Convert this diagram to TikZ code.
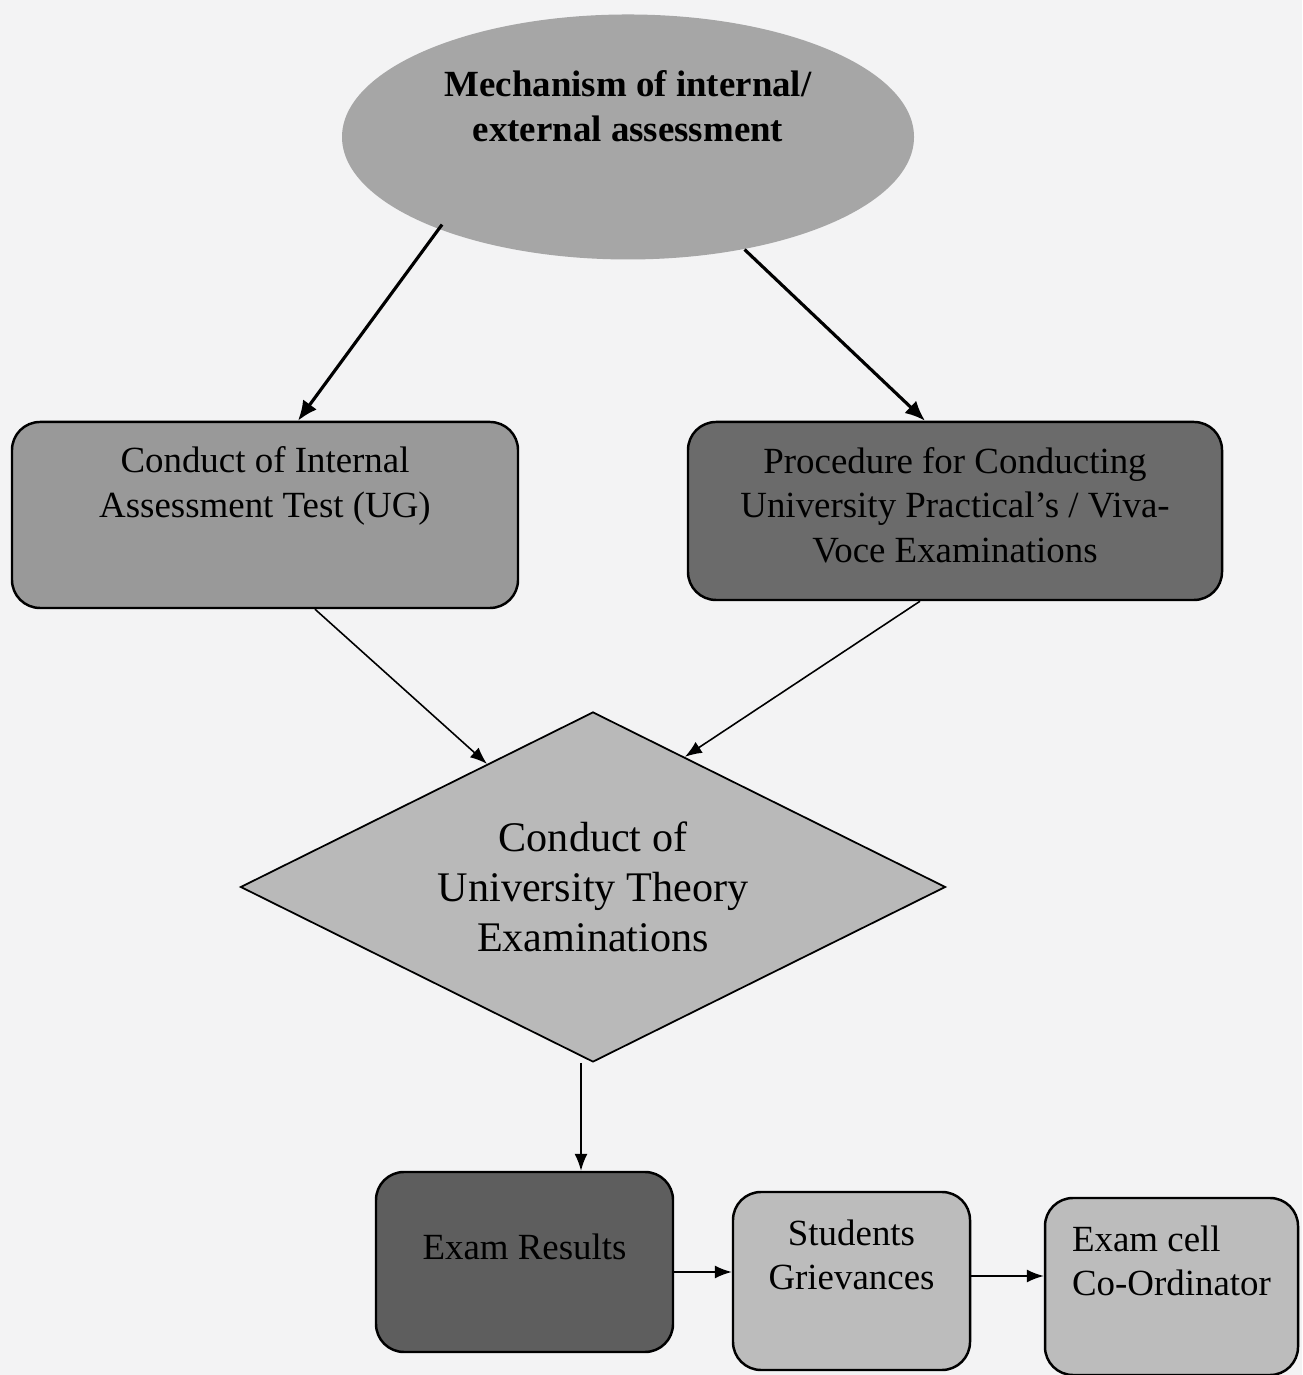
\documentclass[tikz,border=0pt]{standalone}
\usepackage{fontspec}
\setmainfont{Liberation Serif}
\usepackage{tikz}
\usetikzlibrary{calc,arrows.meta,positioning,shapes.geometric}
\definecolor{paper}{HTML}{F3F3F4}
\definecolor{ellgray}{HTML}{A6A6A6}
\definecolor{midgray}{HTML}{999999}
\definecolor{darkgray}{HTML}{6B6B6B}
\definecolor{diagray}{HTML}{B9B9B9}
\definecolor{deepgray}{HTML}{5E5E5E}
\definecolor{lightgray}{HTML}{BCBCBC}

\begin{document}
\begin{tikzpicture}[
    box/.style={draw=black, line width=0.7pt, rounded corners=0.28cm, align=center,
        inner sep=2pt, font=\fontsize{10.5}{12.6}\selectfont},
    bigarrow/.style={line width=0.9pt, -{Latex[length=0.2cm,width=0.17cm]}},
    smallarrow/.style={line width=0.45pt, -{Latex[length=0.17cm,width=0.13cm]}}
  ]
    \useasboundingbox (0,0) rectangle (13.02,13.75);
    \fill[paper] (0,0) rectangle (13.02,13.75);

    % top ellipse
    \node[ellipse, fill=ellgray, minimum width=5.72cm, minimum height=2.45cm,
          align=center, text depth=0.62cm, font=\bfseries\fontsize{10.5}{12.8}\selectfont]
          (mech) at (6.28,12.38) {Mechanism of internal/\\external assessment};

    % second row
    \node[box, fill=midgray, minimum width=5.06cm, minimum height=1.86cm, text depth=0.66cm]
          (iat) at (2.65,8.60) {Conduct of Internal\\Assessment Test (UG)};
    \node[box, fill=darkgray, minimum width=5.34cm, minimum height=1.78cm, text depth=0.12cm]
          (prac) at (9.55,8.64) {Procedure for Conducting\\University Practical’s / Viva-\\Voce Examinations};

    % diamond
    \node[diamond, draw=black, line width=0.5pt, fill=diagray, aspect=2, inner sep=0pt,
          minimum width=7.05cm, minimum height=3.50cm, align=center,
          font=\fontsize{12}{14.2}\selectfont]
          (theory) at (5.93,4.88) {Conduct of\\University Theory\\Examinations};

    % bottom row
    \node[box, fill=deepgray, minimum width=2.97cm, minimum height=1.80cm, text depth=0.30cm]
          (res) at (5.245,1.13) {Exam Results};
    \node[box, fill=lightgray, minimum width=2.37cm, minimum height=1.78cm, text depth=0.52cm]
          (griev) at (8.515,0.94) {Students\\Grievances};
    \node[box, fill=lightgray, minimum width=2.53cm, minimum height=1.77cm, text depth=0.52cm,
          align=left]
          (coord) at (11.715,0.885) {Exam cell\\Co-Ordinator};

    % connectors
    \draw[bigarrow, shorten <=-0.06cm] (mech.206) -- ([xshift=0.33cm]iat.north);
    \draw[bigarrow] (mech.316) -- ([xshift=-0.30cm]prac.north);
    \draw[smallarrow] ([xshift=0.5cm]iat.south) -- ($(theory.north)!0.3!(theory.west)$);
    \draw[smallarrow] ([xshift=-0.35cm]prac.south) -- ($(theory.north)!0.26!(theory.east)$);
    \draw[smallarrow] ([xshift=-0.12cm]theory.south) -- ([xshift=-0.12cm]theory.south |- res.north);
    \draw[smallarrow] ([yshift=-0.1cm]res.east) -- ([yshift=-0.1cm]res.east -| griev.west);
    \draw[smallarrow] ([yshift=0.05cm]griev.east) -- ([yshift=0.05cm]griev.east -| coord.west);
\end{tikzpicture}
\end{document}
